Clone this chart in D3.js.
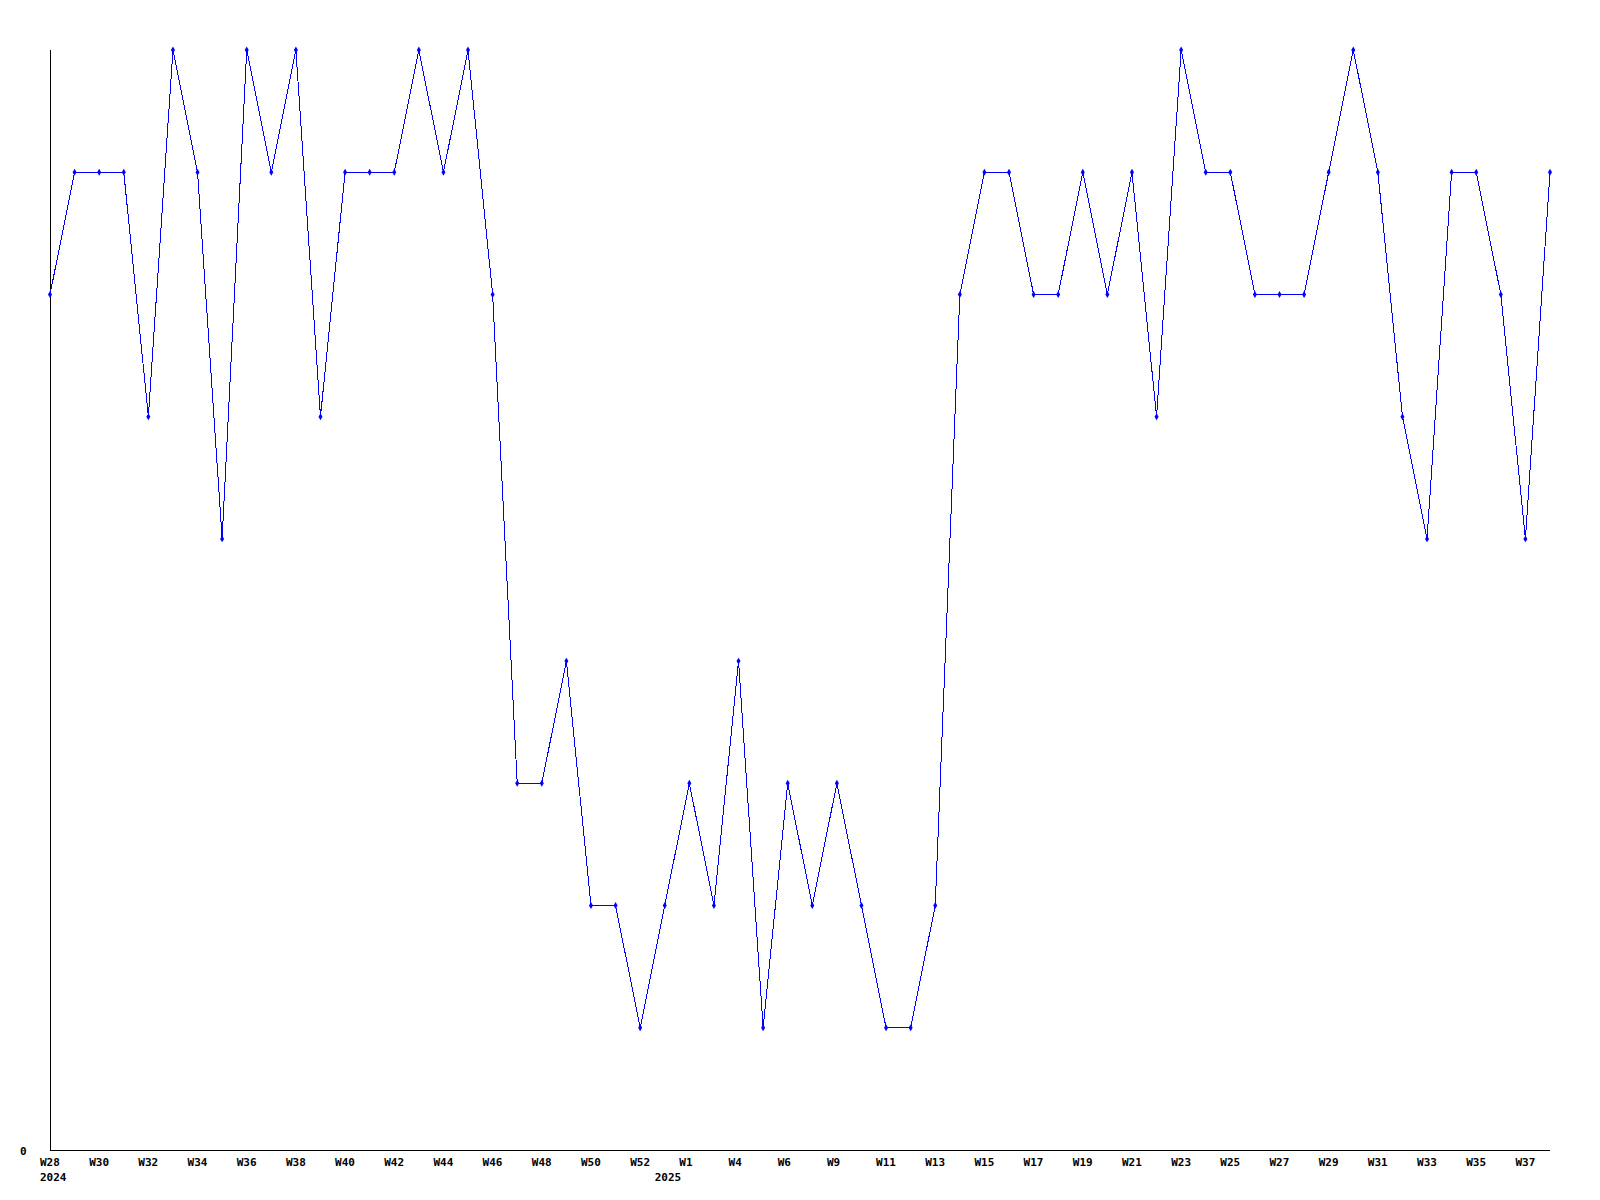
<!DOCTYPE html>
<html>
<head>
<meta charset="utf-8">
<script src="https://cdn.jsdelivr.net/npm/d3@7"></script>
<style>
  body { margin: 0; background: #fff; }
  text { font-family: "DejaVu Sans Mono", monospace; font-weight: bold; font-size: 11px; fill: #000; }
</style>
</head>
<body>
<script>
// weekly values, W28 2024 .. W38 2025 (62 points)
var values = [7, 8, 8, 8, 6, 9, 8, 5, 9, 8, 9, 6, 8, 8, 8, 9, 8, 9, 7, 3,
              3, 4, 2, 2, 1, 2, 3, 2, 4, 1, 3, 2, 3, 2, 1, 1, 2, 7, 8, 8,
              7, 7, 8, 7, 8, 6, 9, 8, 8, 7, 7, 7, 8, 9, 8, 6, 5, 8, 8, 7,
              5, 8];
// labels shown under every other point
var tickLabels = ["W28", "W30", "W32", "W34", "W36", "W38", "W40", "W42", "W44", "W46",
                  "W48", "W50", "W52", "W1", "W4", "W6", "W9", "W11", "W13", "W15",
                  "W17", "W19", "W21", "W23", "W25", "W27", "W29", "W31", "W33", "W35", "W37"];
var yearLabels = [{ idx: 0, text: "2024" }, { idx: 25, text: "2025" }];
var yTicks = [0];

var width = 1600,
    height = 1200,
    margin = { top: 50, right: 50, bottom: 50, left: 50 };

var svg = d3.select("body").append("svg")
    .attr("width", width)
    .attr("height", height);

var x = d3.scaleLinear().domain([0, values.length - 1]).range([margin.left, width - margin.right]);
var y = d3.scaleLinear().domain([0, 9]).range([height - margin.bottom, margin.top]);

// axes
svg.append("line")
    .attr("x1", x(0)).attr("x2", x(0))
    .attr("y1", y(9)).attr("y2", y(0))
    .attr("stroke", "#000").attr("shape-rendering", "crispEdges");
svg.append("line")
    .attr("x1", x(0)).attr("x2", x(values.length - 1))
    .attr("y1", y(0)).attr("y2", y(0))
    .attr("stroke", "#000").attr("shape-rendering", "crispEdges");

svg.selectAll(".ylab")
    .data(yTicks)
    .enter().append("text")
    .attr("class", "ylab")
    .attr("x", 20)
    .attr("y", d => y(d) + 5)
    .text(d => d);

// labels are left-aligned a little before each point
svg.selectAll(".xlab")
    .data(tickLabels)
    .enter().append("text")
    .attr("class", "xlab")
    .attr("x", (d, i) => x(i * 2) - 10)
    .attr("y", y(0) + 16)
    .text(d => d);

svg.selectAll(".year")
    .data(yearLabels)
    .enter().append("text")
    .attr("class", "year")
    .attr("x", d => x(d.idx) - 10)
    .attr("y", y(0) + 31)
    .text(d => d.text);

// the series
var line = d3.line()
    .x((d, i) => x(i))
    .y(d => y(d));

svg.append("path")
    .datum(values)
    .attr("fill", "none")
    .attr("stroke", "#0000ff")
    .attr("stroke-width", 1)
    .attr("shape-rendering", "crispEdges")
    .attr("d", line);

svg.selectAll(".pt")
    .data(values)
    .enter().append("path")
    .attr("class", "pt")
    .attr("transform", (d, i) => `translate(${x(i)},${y(d)})`)
    .attr("d", d3.symbol(d3.symbolDiamond, 14))
    .attr("fill", "#0000ff");
</script>
</body>
</html>
